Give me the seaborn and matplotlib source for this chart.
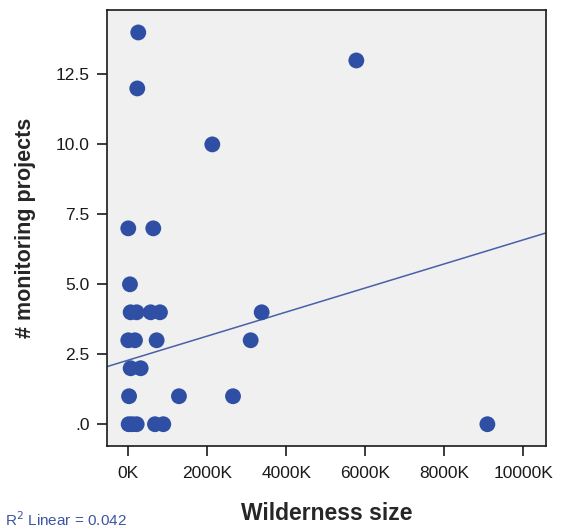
import numpy as np
import pandas as pd
import matplotlib
matplotlib.use("Agg")
import matplotlib.pyplot as plt
import seaborn as sns
from matplotlib.ticker import FuncFormatter

# wilderness size in K (thousand), monitoring project counts
wilderness_k = [253, 5772, 228, 2127,
                0, 633,
                43,
                60, 213, 567, 802, 3376,
                0, 170, 718, 3098,
                60, 314,
                20, 1283, 2651,
                10, 100, 213, 676, 886, 9089]
projects = [14, 13, 12, 10,
            7, 7,
            5,
            4, 4, 4, 4, 4,
            3, 3, 3, 3,
            2, 2,
            1, 1, 1,
            0, 0, 0, 0, 0, 0]

# fitted line (intercept, slope per K)
fit_intercept = 2.29
fit_slope = 0.00043
r2_text = "R$^2$ Linear = 0.042"

x_ticks = [0, 2000, 4000, 6000, 8000, 10000]
y_ticks = [0, 2.5, 5.0, 7.5, 10.0, 12.5]

df = pd.DataFrame({"size": wilderness_k, "projects": projects})

sns.set_style("ticks")
plt.rcParams['font.family'] = ['Liberation Sans', 'DejaVu Sans']

fig = plt.figure(figsize=(5.63, 5.31), dpi=100)
ax = fig.add_axes([0.190, 0.160, 0.780, 0.821])
ax.set_facecolor("#f0f0f0")

sns.scatterplot(data=df, x="size", y="projects", ax=ax, color="#2f4fa5",
                s=130, edgecolor="none", zorder=3)

xs = np.array([-600, 10700])
ax.plot(xs, fit_intercept + fit_slope * xs, color="#4a5fa8", lw=1.1, zorder=2)

ax.set_xlim(-539, 10575)
ax.set_ylim(-0.78, 14.8)
ax.set_xticks(x_ticks)
ax.set_yticks(y_ticks)
ax.xaxis.set_major_formatter(FuncFormatter(lambda v, p: f"{int(v)}K"))
ax.yaxis.set_major_formatter(FuncFormatter(lambda v, p: ".0" if v == 0 else f"{v:.1f}"))
ax.tick_params(axis="both", length=7.5, width=1.2, labelsize=12.5, colors="#1a1a1a")
ax.tick_params(axis="x", pad=7)
ax.tick_params(axis="y", pad=5)
for sp in ax.spines.values():
    sp.set_linewidth(1.2)
    sp.set_color("#1a1a1a")

ax.set_xlabel("Wilderness size", fontsize=16.5, fontweight="bold")
ax.set_ylabel("# monitoring projects", fontsize=15.5, fontweight="bold")
ax.xaxis.set_label_coords(0.5, -0.128)
ax.yaxis.set_label_coords(-0.162, 0.5)

fig.text(0.008, 0.01, r2_text, color="#3a55a4", fontsize=11)

fig.savefig("out.png", dpi=100)
